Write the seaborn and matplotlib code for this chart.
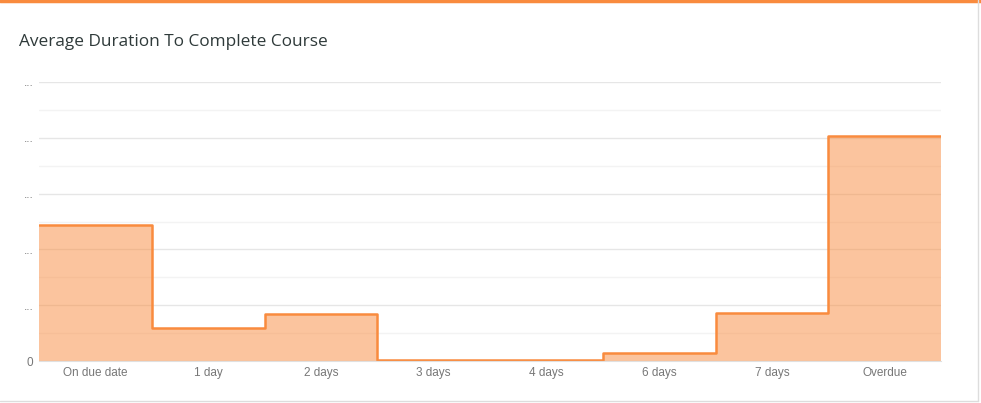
import numpy as np
import pandas as pd
import matplotlib
matplotlib.use("Agg")
import matplotlib.pyplot as plt
from matplotlib.ticker import MultipleLocator
import seaborn as sns

# DATA
categories = ["On due date", "1 day", "2 days", "3 days", "4 days", "6 days", "7 days", "Overdue"]
avg_values = [24.4, 5.9, 8.4, 0.2, 0.1, 1.4, 8.6, 40.3]
y_ticks = [0, 10, 20, 30, 40, 50]
y_tick_labels = ["0", "...", "...", "...", "...", "..."]

df = pd.DataFrame({"pos": np.arange(len(categories)) + 0.5, "value": avg_values})

sns.set_style("white")
plt.rcParams['font.family'] = ['Liberation Sans', 'DejaVu Sans']

orange = "#F98B3E"

fig = plt.figure(figsize=(9.81, 4.03), dpi=100)
ax = fig.add_axes([39 / 981, 42 / 403, 902 / 981, 279 / 403])

n = len(categories)
# filled area
sns.histplot(data=df, x="pos", weights="value", binwidth=1, binrange=(0, n),
             element="step", fill=True, color=orange, alpha=0.5, linewidth=0, ax=ax)
# outline
sns.histplot(data=df, x="pos", weights="value", binwidth=1, binrange=(0, n),
             element="step", fill=False, color=orange, linewidth=1.8, ax=ax)

ax.set_xlim(0, n)
ax.set_ylim(0, 50)
ax.set_xticks(np.arange(n) + 0.5)
ax.set_xticklabels(categories)
ax.set_yticks(y_ticks)
ax.set_yticklabels(y_tick_labels)
ax.yaxis.set_minor_locator(MultipleLocator(5))
ax.grid(which="major", axis="y", color="#e6e6e6", linewidth=1)
ax.grid(which="minor", axis="y", color="#f3f3f3", linewidth=1)
ax.set_axisbelow(True)
ax.set_xlabel("")
ax.set_ylabel("")
ax.tick_params(axis="both", which="both", length=0, labelsize=8.5, colors="#777777", pad=4)
for side in ["top", "right", "left"]:
    ax.spines[side].set_visible(False)
ax.spines["bottom"].set_color("#e0e0e0")

# card frame
fig.add_artist(plt.Line2D([0, 1], [1 - 1 / 403, 1 - 1 / 403], color=orange, linewidth=2.5, transform=fig.transFigure))
fig.add_artist(plt.Line2D([977.5 / 981, 977.5 / 981], [2 / 403, 1], color="#dddddd", linewidth=1, transform=fig.transFigure))
fig.add_artist(plt.Line2D([0, 978 / 981], [2 / 403, 2 / 403], color="#dddddd", linewidth=1, transform=fig.transFigure))

fig.text(19 / 981, 1 - 42 / 403, "Average Duration To Complete Course",
         fontsize=12.4, color="#2f3a3a", va="center", ha="left", family="Open Sans")

plt.savefig("out.png", dpi=100)
plt.close()
